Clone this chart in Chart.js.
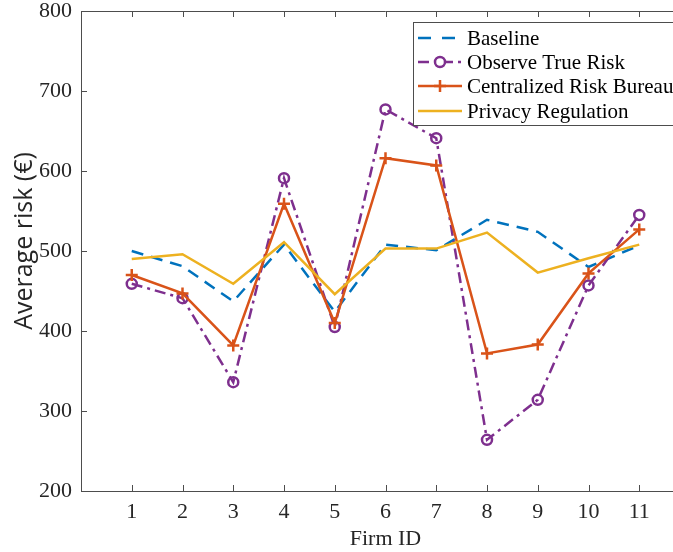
<!DOCTYPE html>
<html>
<head>
<meta charset="utf-8">
<script src="https://cdn.jsdelivr.net/npm/chart.js@4.4.1/dist/chart.umd.min.js"></script>
<style>
html,body{margin:0;padding:0;background:#fff;}
#wrap{width:673px;height:552px;overflow:hidden;position:relative;}
canvas{display:block;}
</style>
</head>
<body>
<div id="wrap"><canvas id="c" width="701" height="552"></canvas></div>
<script>
const firmIds = [1, 2, 3, 4, 5, 6, 7, 8, 9, 10, 11];
const baseline = [500, 481, 437, 508, 424, 508, 501, 539, 524, 480, 507];
const observeTrueRisk = [459, 441, 336, 591, 405, 677, 641, 264, 314, 457, 545];
const centralizedBureau = [470, 447, 382, 559, 410, 616, 607, 372, 383, 472, 527];
const privacyRegulation = [490, 496, 459, 511, 446, 503, 503, 523, 473, 491, 508];
const yTicks = [200, 300, 400, 500, 600, 700, 800];
const seriesNames = ['Baseline', 'Observe True Risk', 'Centralized Risk Bureau', 'Privacy Regulation'];
const yTitle = 'Average risk (€)';

const pts = arr => arr.map((v, i) => ({x: firmIds[i], y: v}));
const AX = '#4d4d4d';
const TXT = '#262626';
const SERIF = '"Liberation Serif", "Times New Roman", serif';
const SANS = '"Open Sans", "DejaVu Sans", sans-serif';

const decor = {
  id: 'decor',
  afterDraw(chart) {
    const ctx = chart.ctx, a = chart.chartArea;
    const xs = chart.scales.x, ys = chart.scales.y;
    ctx.save();
    ctx.strokeStyle = AX; ctx.lineWidth = 1;
    // top border
    ctx.beginPath(); ctx.moveTo(a.left, a.top + 0.5); ctx.lineTo(a.right, a.top + 0.5); ctx.stroke();
    // inward ticks
    ctx.beginPath();
    firmIds.forEach(v => {
      const px = Math.round(xs.getPixelForValue(v)) + 0.5;
      ctx.moveTo(px, a.bottom); ctx.lineTo(px, a.bottom - 6);
      ctx.moveTo(px, a.top); ctx.lineTo(px, a.top + 6);
    });
    yTicks.forEach(v => {
      const py = Math.round(ys.getPixelForValue(v)) + 0.5;
      ctx.moveTo(a.left, py); ctx.lineTo(a.left + 6, py);
    });
    ctx.stroke();

    // y title
    ctx.save();
    ctx.translate(32, 241);
    ctx.rotate(-Math.PI / 2);
    ctx.fillStyle = TXT;
    ctx.font = '25px ' + SANS;
    ctx.textAlign = 'center';
    ctx.textBaseline = 'alphabetic';
    ctx.fillText(yTitle, 0, 0);
    ctx.restore();

    // legend
    const bx = 413.5, by = 22.5, bw = 320, bh = 103;
    ctx.fillStyle = '#fff';
    ctx.fillRect(bx, by, bw, bh);
    ctx.strokeStyle = AX;
    ctx.lineWidth = 1;
    ctx.strokeRect(bx, by, bw, bh);
    const rows = [38, 62, 86, 111];
    chart.data.datasets.forEach((ds, i) => {
      const y = rows[i];
      ctx.strokeStyle = ds.borderColor;
      ctx.lineWidth = ds.borderWidth;
      ctx.setLineDash(ds.legendDash || ds.borderDash || []);
      ctx.beginPath(); ctx.moveTo(418, y); ctx.lineTo(462, y); ctx.stroke();
      ctx.setLineDash([]);
      if (ds.pointStyle === 'circle') {
        ctx.fillStyle = '#fff';
        ctx.beginPath(); ctx.arc(440, y, ds.pointRadius, 0, Math.PI * 2); ctx.fill(); ctx.stroke();
      } else if (ds.pointStyle === 'cross') {
        const r = ds.pointRadius;
        ctx.beginPath(); ctx.moveTo(440 - r, y); ctx.lineTo(440 + r, y);
        ctx.moveTo(440, y - r); ctx.lineTo(440, y + r); ctx.stroke();
      }
      ctx.fillStyle = '#000';
      ctx.font = '21px ' + SERIF;
      ctx.textBaseline = 'middle';
      ctx.textAlign = 'left';
      ctx.fillText(seriesNames[i], 467, y + 1);
    });
    ctx.restore();
  }
};

new Chart(document.getElementById('c'), {
  type: 'line',
  data: {
    datasets: [
      {label: seriesNames[0], data: pts(baseline), borderColor: '#0072BD', borderWidth: 2.5,
       borderDash: [12, 8], legendDash: [13, 11], pointRadius: 0, pointStyle: false, order: 4, tension: 0},
      {label: seriesNames[1], data: pts(observeTrueRisk), borderColor: '#7E2F8E', borderWidth: 2.5,
       borderDash: [11, 5, 3, 5], pointStyle: 'circle', pointRadius: 5, pointBorderWidth: 2.5,
       pointBackgroundColor: 'rgba(255,255,255,0)', pointBorderColor: '#7E2F8E', order: 3, tension: 0},
      {label: seriesNames[2], data: pts(centralizedBureau), borderColor: '#D95319', borderWidth: 2.5,
       pointStyle: 'cross', pointRadius: 6, pointBorderWidth: 2.5, pointBorderColor: '#D95319', order: 2, tension: 0},
      {label: seriesNames[3], data: pts(privacyRegulation), borderColor: '#EDB120', borderWidth: 2.5,
       pointRadius: 0, pointStyle: false, order: 1, tension: 0}
    ]
  },
  options: {
    responsive: false,
    animation: false,
    devicePixelRatio: 1,
    layout: {padding: {top: 11, right: 11, left: 0, bottom: 0}},
    plugins: {legend: {display: false}, tooltip: {enabled: false}},
    elements: {point: {hitRadius: 0, hoverRadius: 0}},
    scales: {
      x: {
        type: 'linear', min: 0, max: 12,
        afterFit(s) { s.height = 61; s.paddingLeft = 0; s.paddingRight = 0; },
        afterBuildTicks(s) { s.ticks = firmIds.map(v => ({value: v})); },
        ticks: {font: {size: 22, family: SERIF}, color: TXT, padding: 8, maxRotation: 0, autoSkip: false},
        grid: {display: true, drawOnChartArea: false, drawTicks: false},
        border: {display: true, color: AX, width: 1},
        title: {display: true, text: 'Firm ID', font: {size: 22, family: SERIF}, color: TXT, padding: {top: 3, bottom: 0}}
      },
      y: {
        type: 'linear', min: 200, max: 800,
        afterFit(s) { s.width = 81; s.paddingTop = 0; s.paddingBottom = 0; },
        afterBuildTicks(s) { s.ticks = yTicks.map(v => ({value: v})); },
        ticks: {font: {size: 22, family: SERIF}, color: TXT, padding: 9},
        grid: {display: true, drawOnChartArea: false, drawTicks: false},
        border: {display: true, color: AX, width: 1},
        title: {display: false}
      }
    }
  },
  plugins: [decor]
});
</script>
</body>
</html>
